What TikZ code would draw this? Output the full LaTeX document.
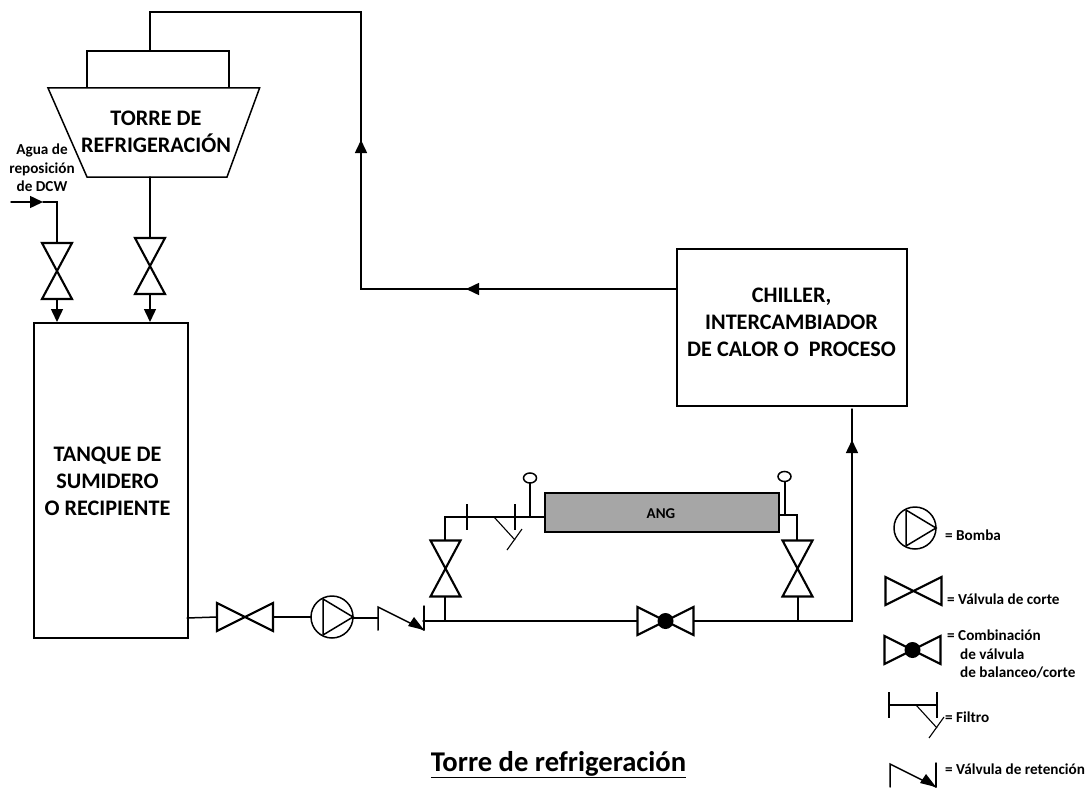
\documentclass[tikz,border=0pt]{standalone}
\usepackage{fontspec}
\setmainfont{Carlito}[BoldFont={Carlito Bold}]
\usetikzlibrary{arrows.meta}
\tikzset{
  pipe/.style={draw=black,line width=1.5pt,line cap=round,line join=miter},
  flow/.style={pipe,-{Triangle[length=13pt,width=12pt]}},
  box/.style={draw=black,line width=1.6pt,fill=white,inner sep=0pt,anchor=north west},
  valveline/.style={draw=black,line width=2.1pt,line join=miter},
  thin tick/.style={draw=black,line width=1.1pt},
  label big/.style={font=\fontsize{22.2}{27}\selectfont\bfseries,align=center,inner sep=0pt},
  label small/.style={font=\fontsize{15.2}{18}\selectfont\bfseries,inner sep=0pt,anchor=base west},
  pics/hvalve/.style={code={
    \draw[valveline] (-28,-14) -- (28,14) -- (28,-14) -- (-28,14) -- cycle;}},
  pics/vvalve/.style={code={
    \draw[valveline] (-15,-28) -- (15,28) -- (-15,28) -- (15,-28) -- cycle;}},
  pics/combo/.style={code={
    \draw[valveline] (-28,-14) -- (28,14) -- (28,-14) -- (-28,14) -- cycle;
    \fill[black] (0,0) circle (8);}},
  pics/pumpsym/.style={code={
    \draw[pipe,fill=white] (0,0) circle (21);
    \draw[pipe] (-9,-18) -- (21,0) -- (-9,18) -- cycle;}},
  pics/checkv/.style={code={
    \draw[pipe] (-23,12) -- (-23,-11) -- (23,12);
    \draw[pipe] (23,-12) -- (23,12);
    \fill[black] (23,12) -- (7,8) -- (13,-1) -- cycle;}},
  pics/strainer/.style={code={
    \draw[thin tick] (0,-13) -- (0,13);
    \draw[thin tick] (48,-13) -- (48,13);
    \draw[thin tick] (27,0) -- (48,23);
    \draw[thin tick] (55,12) -- (40,33);}},
}
\begin{document}
\begin{tikzpicture}[x=1pt,y=-1pt]
\useasboundingbox[fill=white] (0,0) rectangle (1089,789);

% Main equipment
\node[box,minimum width=142pt,minimum height=38pt] (fan) at (86,50) {};
\node[box,draw=none,fill=none,minimum width=210pt,minimum height=89pt] (towerbb) at (48,88) {};
\draw[pipe,fill=white] (towerbb.north west) -- (towerbb.north east) -- (227,177) -- (87,177) -- cycle;
\node[label big] (tower) at (156,131.5) {TORRE DE\\REFRIGERACIÓN};
\node[box,minimum width=154pt,minimum height=315pt] (tank) at (33,322) {};
\node[label big] (tanktext) at (107.5,481) {TANQUE DE\\SUMIDERO\\O RECIPIENTE};
\node[box,minimum width=230pt,minimum height=157pt] (chiller) at (676,248) {};
\node[label big] (chillertext) at (791.5,322) {CHILLER,\\INTERCAMBIADOR\\DE CALOR O\ \ PROCESO};
\node[box,line width=2pt,fill={rgb:black,35;white,65},minimum width=234pt,minimum height=39pt] (ang) at (544,492) {};
\node[inner sep=0pt,font=\fontsize{15}{18}\selectfont\bfseries] (angtext) at (661,514) {ANG};

% Labels
\node[inner sep=0pt,align=center,font=\fontsize{15.2}{18.5}\selectfont\bfseries] (dcw) at (42,168) {Agua de\\reposición\\de DCW};
\node[inner sep=0pt,anchor=base,font=\fontsize{28.6}{34}\selectfont\bfseries] (title) at (558.5,771) {\underline{Torre de refrigeración}};

% Coordinates
\coordinate (fanout) at (150,50);
\coordinate (top1) at (150,12);
\coordinate (top2) at (361,12);
\coordinate (ret1) at (361,140);
\coordinate (ret2) at (361,289);
\coordinate (ret3) at (466,289);
\coordinate (chin) at (676,289);
\coordinate (dcw0) at (11,202);
\coordinate (dcw1) at (43,202);
\coordinate (dcw2) at (57,202);
\coordinate (v1t) at (57,243);
\coordinate (v1b) at (57,299);
\coordinate (t1) at (57,322);
\coordinate (towerout) at (150,177);
\coordinate (v2t) at (150,238);
\coordinate (v2b) at (150,294);
\coordinate (t2) at (150,322);
\coordinate (tankout) at (187,618);
\coordinate (v3l) at (217,617);
\coordinate (v3r) at (273,617);
\coordinate (pumpin) at (311,617);
\coordinate (pumpout) at (353,618);
\coordinate (chkin) at (378,618);
\coordinate (chkout) at (423,621);
\coordinate (j1) at (445,621);
\coordinate (v4t) at (445,540);
\coordinate (v4b) at (445,597);
\coordinate (a1) at (445,517);
\coordinate (g1) at (530,517);
\coordinate (g1t) at (530,483);
\coordinate (v6l) at (637,621);
\coordinate (v6r) at (694,621);
\coordinate (j2) at (798,621);
\coordinate (v5t) at (797,540);
\coordinate (v5b) at (798,597);
\coordinate (a2) at (797,515);
\coordinate (g2) at (785,515);
\coordinate (g2t) at (785,481);
\coordinate (c1) at (852,621);
\coordinate (c2) at (852,409);
\coordinate (c3) at (852,440);

% Connectors
\draw[pipe] (fanout) -- (top1) -- (top2) -- (ret2) -- (chin);
\draw[flow] (ret2) -- (ret1);
\draw[flow] (chin) -- (ret3);
\draw[flow] (dcw0) -- (dcw1);
\draw[pipe] (dcw1) -- (dcw2) -- (v1t);
\draw[flow] (v1b) -- (t1);
\draw[pipe] (towerout) -- (v2t);
\draw[flow] (v2b) -- (t2);
\draw[pipe] (tankout) -- (v3l);
\draw[pipe] (v3r) -- (pumpin);
\draw[pipe] (pumpout) -- (chkin);
\draw[pipe] (chkout) -- (v6l);
\draw[pipe] (j1) -- (v4b);
\draw[pipe] (v4t) -- (a1) -- (ang.west |- a1);
\draw[pipe] (g1) -- (g1t);
\draw[pipe] (ang.east |- a2) -- (a2) -- (v5t);
\draw[pipe] (g2) -- (g2t);
\draw[pipe] (v5b) -- (j2);
\draw[pipe] (v6r) -- (c1) -- (c2);
\draw[flow] (c1) -- (c3);

% Symbols
\pic at (57,271) {vvalve};
\pic at (150,266) {vvalve};
\pic at (245,617) {hvalve};
\pic at (332,617) {pumpsym};
\pic at (401,618) {checkv};
\pic at (445.5,568.5) {vvalve};
\pic at (797.5,568.5) {vvalve};
\pic at (665.5,621) {combo};
\pic at (467,517) {strainer};
\draw[pipe,fill=white] (530,478) ellipse (6.5 and 5);
\draw[pipe,fill=white] (784.5,476.5) ellipse (6.5 and 5);

% Legend
\pic at (915,528) {pumpsym};
\pic at (913.5,591) {hvalve};
\pic at (912.5,650) {combo};
\pic at (889,705) {strainer};
\draw[pipe] (889,705) -- (937,705);
\pic at (913,775) {checkv};
\node[label small] (l1) at (945,540) {= Bomba};
\node[label small] (l2) at (947,604) {= Válvula de corte};
\node[label small] (l3) at (947,640) {= Combinación};
\node[label small] (l3b) at (960,659) {de válvula};
\node[label small] (l3c) at (960,677) {de balanceo/corte};
\node[label small] (l4) at (945,722) {= Filtro};
\node[label small] (l5) at (945,774) {= Válvula de retención};
\end{tikzpicture}
\end{document}
